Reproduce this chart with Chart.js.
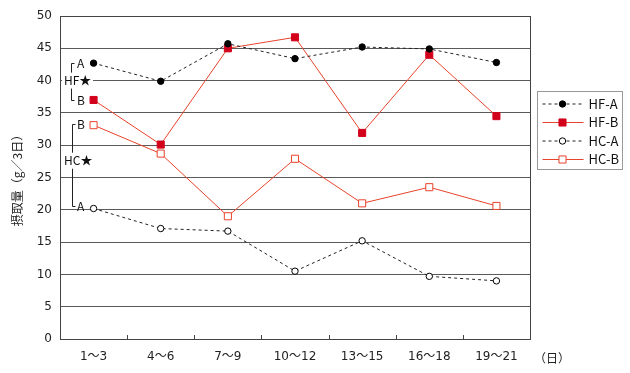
<!DOCTYPE html>
<html>
<head>
<meta charset="utf-8">
<script src="https://cdn.jsdelivr.net/npm/chart.js@4.4.1/dist/chart.umd.min.js"></script>
<style>
  html, body { margin: 0; padding: 0; background: #fff; }
  #wrap { width: 630px; height: 373px; }
</style>
</head>
<body>
<div id="wrap"><canvas id="chart" width="630" height="373"></canvas></div>
<script>
// --- Data ---
const labels = ['1〜3', '4〜6', '7〜9', '10〜12', '13〜15', '16〜18', '19〜21'];
const hfA = [42.7, 39.9, 45.7, 43.4, 45.2, 44.9, 42.8];
const hfB = [37.0, 30.1, 45.0, 46.7, 31.9, 44.0, 34.5];
const hcA = [20.2, 17.1, 16.7, 10.5, 15.2, 9.7, 9.0];
const hcB = [33.1, 28.7, 19.0, 27.9, 21.0, 23.5, 20.6];
const seriesNames = ['HF-A', 'HF-B', 'HC-A', 'HC-B'];
const yTitle = '摂取量（g／3日）';
const xUnit = '（日）';

const FONT = "'Noto Sans CJK JP', 'Noto Sans', sans-serif";
const NUM_FONT = "'DejaVu Sans', 'Noto Sans CJK JP', sans-serif";
const RED = '#e8432b';
const DARK_RED = '#d3001c';

// --- Plugin: border, inner ticks, bracket notes, unit, legend ---
const extras = {
    id: 'extras',
    afterDraw(chart) {
        const ctx = chart.ctx;
        const area = chart.chartArea;
        const x = chart.scales.x;
        const y = chart.scales.y;
        ctx.save();

        // plot border
        ctx.strokeStyle = '#444';
        ctx.lineWidth = 1;
        ctx.strokeRect(Math.round(area.left) + 0.5, Math.round(area.top) + 0.5,
            Math.round(area.right - area.left), Math.round(area.bottom - area.top));

        // small inward ticks between categories
        const half = (x.getPixelForTick(1) - x.getPixelForTick(0)) / 2;
        for (let i = 0; i < labels.length - 1; i++) {
            const px = Math.round(x.getPixelForTick(i) + half) + 0.5;
            ctx.beginPath();
            ctx.moveTo(px, area.bottom);
            ctx.lineTo(px, area.bottom - 4);
            ctx.stroke();
        }

        // bracket notes (HF / HC)
        ctx.font = '12px ' + FONT;
        ctx.textBaseline = 'middle';
        const drawBracket = (name, topLabel, topVal, botLabel, botVal, midVal, bx) => {
            const yt = Math.round(y.getPixelForValue(topVal)) + 0.5;
            const yb = Math.round(y.getPixelForValue(botVal)) + 0.5;
            const ym = y.getPixelForValue(midVal);
            ctx.strokeStyle = '#222';
            ctx.beginPath();
            ctx.moveTo(bx + 3, yt); ctx.lineTo(bx, yt); ctx.lineTo(bx, ym - 8);
            ctx.moveTo(bx, ym + 8); ctx.lineTo(bx, yb); ctx.lineTo(bx + 3, yb);
            ctx.stroke();
            ctx.fillStyle = '#fff';
            ctx.fillRect(area.left + 2, ym - 7, 31, 14);
            ctx.fillStyle = '#111';
            ctx.textAlign = 'left';
            ctx.fillText(topLabel, area.left + 17, yt);
            ctx.fillText(botLabel, area.left + 17, yb);
            ctx.fillText(name + '★', area.left + 4, ym);
        };
        drawBracket('HF', 'A', 42.7, 'B', 37.0, 40.0, Math.round(area.left) + 11.5);
        drawBracket('HC', 'B', 33.3, 'A', 20.6, 27.6, Math.round(area.left) + 12.5);

        // unit after last x label
        ctx.font = '12px ' + FONT;
        ctx.fillStyle = '#222';
        ctx.textAlign = 'left';
        ctx.fillText(xUnit, area.right + 4, area.bottom + 19);

        // legend
        const lx = Math.round(area.right) + 7.5;
        const ly = 91.5;
        ctx.strokeStyle = '#999';
        ctx.strokeRect(lx, ly, 85, 78);
        chart.data.datasets.forEach((ds, i) => {
            const cy = ly + 12.5 + i * 18.5;
            ctx.strokeStyle = ds.borderColor;
            ctx.lineWidth = 1;
            ctx.setLineDash(ds.borderDash || []);
            ctx.beginPath();
            ctx.moveTo(lx + 5, cy);
            ctx.lineTo(lx + 46, cy);
            ctx.stroke();
            ctx.setLineDash([]);
            ctx.fillStyle = ds.pointBackgroundColor;
            ctx.strokeStyle = ds.pointBorderColor;
            ctx.beginPath();
            if (ds.pointStyle === 'rect') {
                const s = ds.pointRadius * Math.SQRT1_2;
                ctx.rect(lx + 25 - s, cy - s, 2 * s, 2 * s);
            } else {
                ctx.arc(lx + 25, cy, ds.pointRadius, 0, Math.PI * 2);
            }
            ctx.fill();
            ctx.stroke();
            ctx.fillStyle = '#111';
            ctx.font = '13px ' + FONT;
            ctx.textAlign = 'left';
            ctx.fillText(ds.label, lx + 51, cy);
        });
        ctx.restore();
    }
};

function lineSet(label, data, color, dash, style, fill, border) {
    return {
        label: label,
        data: data,
        borderColor: color,
        borderWidth: 1,
        borderDash: dash,
        fill: false,
        tension: 0,
        pointStyle: style,
        pointRadius: style === 'rect' ? 5 : 3.2,
        pointBackgroundColor: fill,
        pointBorderColor: border,
        pointBorderWidth: 1
    };
}

const ctx = document.getElementById('chart').getContext('2d');
new Chart(ctx, {
    type: 'line',
    data: {
        labels: labels,
        datasets: [
            lineSet(seriesNames[0], hfA, '#222', [3, 3], 'circle', '#000', '#000'),
            lineSet(seriesNames[1], hfB, RED, [], 'rect', DARK_RED, DARK_RED),
            lineSet(seriesNames[2], hcA, '#222', [3, 3], 'circle', '#fff', '#000'),
            lineSet(seriesNames[3], hcB, RED, [], 'rect', '#fff', RED)
        ]
    },
    options: {
        responsive: false,
        animation: false,
        layout: { padding: { left: 10, right: 100, top: 16, bottom: 0 } },
        plugins: {
            legend: { display: false },
            tooltip: { enabled: false }
        },
        scales: {
            x: {
                offset: true,
                grid: { display: false, drawTicks: false },
                border: { display: false },
                ticks: {
                    color: '#222',
                    padding: 11,
                    maxRotation: 0,
                    font: { family: NUM_FONT, size: 12 }
                },
                afterFit(scale) { scale.height = 34; }
            },
            y: {
                min: 0,
                max: 50,
                ticks: {
                    stepSize: 5,
                    color: '#222',
                    padding: 8,
                    font: { family: NUM_FONT, size: 12 }
                },
                grid: { color: '#5a5a5a', drawTicks: false },
                border: { display: false },
                title: {
                    display: true,
                    text: yTitle,
                    color: '#222',
                    padding: { top: 0, bottom: 0 },
                    font: { family: FONT, size: 12 }
                },
                afterFit(scale) { scale.width = 50; }
            }
        }
    },
    plugins: [extras]
});
</script>
</body>
</html>
